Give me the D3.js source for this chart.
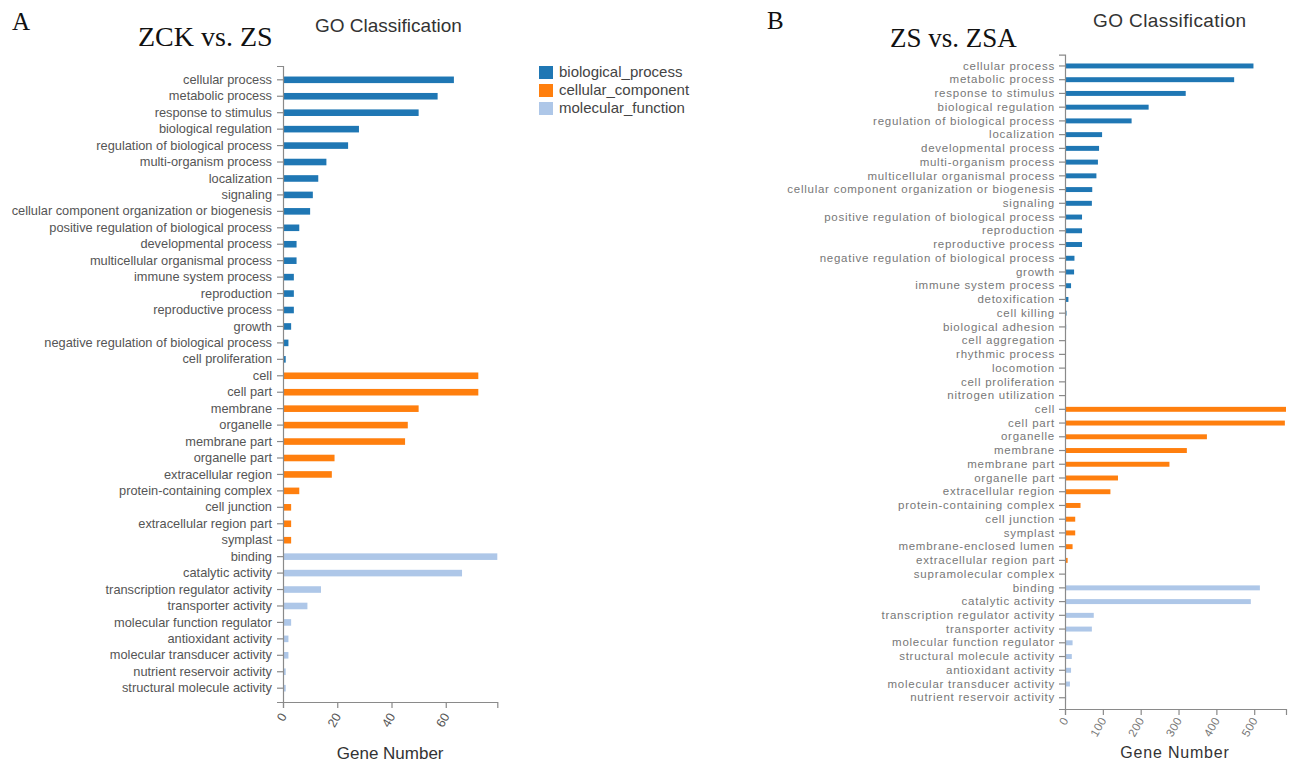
<!DOCTYPE html>
<html>
<head>
<meta charset="utf-8">
<script src="https://cdn.jsdelivr.net/npm/d3@7"></script>
<style>
  html, body { margin: 0; padding: 0; background: #fff; }
  svg { display: block; }
  .axis path, .axis line { stroke: #8a8a8a; stroke-width: 1.2; }
</style>
</head>
<body>
<svg id="chart" width="1295" height="762"></svg>
<script>
// ---- Panel A: ZCK vs. ZS ----
const aProcessTerms = ["cellular process", "metabolic process", "response to stimulus", "biological regulation",
  "regulation of biological process", "multi-organism process", "localization", "signaling",
  "cellular component organization or biogenesis", "positive regulation of biological process",
  "developmental process", "multicellular organismal process", "immune system process", "reproduction",
  "reproductive process", "growth", "negative regulation of biological process", "cell proliferation"];
const aProcessCounts = [63, 57, 50, 28, 24, 16, 13, 11, 10, 6, 5, 5, 4, 4, 4, 3, 2, 1];

const aComponentTerms = ["cell", "cell part", "membrane", "organelle", "membrane part", "organelle part",
  "extracellular region", "protein-containing complex", "cell junction", "extracellular region part", "symplast"];
const aComponentCounts = [72, 72, 50, 46, 45, 19, 18, 6, 3, 3, 3];

const aFunctionTerms = ["binding", "catalytic activity", "transcription regulator activity", "transporter activity",
  "molecular function regulator", "antioxidant activity", "molecular transducer activity",
  "nutrient reservoir activity", "structural molecule activity"];
const aFunctionCounts = [79, 66, 14, 9, 3, 2, 2, 1, 1];

// ---- Panel B: ZS vs. ZSA ----
const bProcessTerms = ["cellular process", "metabolic process", "response to stimulus", "biological regulation",
  "regulation of biological process", "localization", "developmental process", "multi-organism process",
  "multicellular organismal process", "cellular component organization or biogenesis", "signaling",
  "positive regulation of biological process", "reproduction", "reproductive process",
  "negative regulation of biological process", "growth", "immune system process", "detoxification",
  "cell killing", "biological adhesion", "cell aggregation", "rhythmic process", "locomotion",
  "cell proliferation", "nitrogen utilization"];
const bProcessCounts = [498, 447, 319, 221, 176, 98, 90, 87, 83, 72, 71, 45, 45, 45, 25, 24, 16, 9, 4, 3, 2, 1, 1, 1, 1];

const bComponentTerms = ["cell", "cell part", "organelle", "membrane", "membrane part", "organelle part",
  "extracellular region", "protein-containing complex", "cell junction", "symplast", "membrane-enclosed lumen",
  "extracellular region part", "supramolecular complex"];
const bComponentCounts = [584, 581, 375, 322, 276, 140, 120, 41, 27, 27, 20, 7, 1];

const bFunctionTerms = ["binding", "catalytic activity", "transcription regulator activity", "transporter activity",
  "molecular function regulator", "structural molecule activity", "antioxidant activity",
  "molecular transducer activity", "nutrient reservoir activity"];
const bFunctionCounts = [515, 491, 76, 71, 20, 18, 16, 13, 3];

const ontologies = ["biological_process", "cellular_component", "molecular_function"];
const ontologyColors = ["#1f77b4", "#ff7f0e", "#aec7e8"];

const SANS = "'Liberation Sans', Arial, Helvetica, sans-serif";
const SERIF = "'Liberation Serif', 'Times New Roman', serif";

const svg = d3.select("#chart");
svg.append("rect").attr("width", 1295).attr("height", 762).attr("fill", "#fff");

const color = d3.scaleOrdinal().domain(ontologies).range(ontologyColors);

function buildRows(groups) {
  const rows = [];
  groups.forEach(([terms, counts, onto]) => {
    terms.forEach((t, i) => rows.push({ term: t, count: counts[i], onto }));
  });
  return rows;
}

function drawPanel(opt) {
  const rows = buildRows(opt.groups);
  const g = svg.append("g");

  const x = d3.scaleLinear()
    .domain([0, d3.max(rows, d => d.count)])
    .range([opt.x0, opt.x1]);
  const y = d3.scaleBand()
    .domain(rows.map(d => d.term))
    .range([opt.y0, opt.y1])
    .paddingInner(opt.padInner)
    .paddingOuter(0.64);

  // bars
  g.append("g").selectAll("rect")
    .data(rows)
    .join("rect")
    .attr("x", x(0))
    .attr("y", d => y(d.term))
    .attr("width", d => x(d.count) - x(0))
    .attr("height", y.bandwidth())
    .attr("fill", d => color(d.onto));

  // category axis
  const yAxis = g.append("g")
    .attr("class", "axis")
    .attr("transform", `translate(${opt.x0},0)`)
    .call(d3.axisLeft(y).tickSize(6).tickPadding(opt.labelPad));
  yAxis.selectAll("text")
    .attr("fill", opt.labelColor)
    .style("font-family", SANS)
    .style("font-size", opt.labelSize + "px")
    .style("letter-spacing", opt.labelSpacing + "px");

  // value axis
  const xAxis = g.append("g")
    .attr("class", "axis")
    .attr("transform", `translate(0,${opt.y1})`)
    .call(d3.axisBottom(x).ticks(opt.ticks).tickSize(6));
  xAxis.selectAll("text")
    .attr("fill", opt.labelColor)
    .style("font-family", SANS)
    .style("font-size", opt.tickSize + "px")
    .style("letter-spacing", opt.tickSpacing + "px")
    .style("text-anchor", "end")
    .attr("y", 0).attr("dy", "0.35em").attr("dx", 0)
    .attr("transform", `translate(0,${opt.tickDrop}) rotate(-60)`);

  // axis title
  g.append("text")
    .attr("x", (opt.x0 + opt.x1) / 2 + opt.titleShift)
    .attr("y", opt.axisTitleY)
    .attr("text-anchor", "middle")
    .attr("fill", "#333")
    .style("font-family", SANS)
    .style("font-size", opt.axisTitleSize + "px")
    .style("letter-spacing", opt.axisTitleSpacing + "px")
    .text("Gene Number");

  // headings
  g.append("text").attr("x", opt.letterX).attr("y", opt.letterY)
    .attr("fill", "#111").style("font-family", SERIF).style("font-size", "25px")
    .text(opt.letter);
  g.append("text").attr("x", opt.compX).attr("y", opt.compY)
    .attr("fill", "#111").style("font-family", SERIF).style("font-size", opt.compSize + "px")
    .text(opt.comparison);
  g.append("text").attr("x", opt.goX).attr("y", opt.goY)
    .attr("fill", "#333").style("font-family", SANS).style("font-size", "19px")
    .style("letter-spacing", opt.goSpacing + "px")
    .text("GO Classification");
}

drawPanel({
  groups: [[aProcessTerms, aProcessCounts, ontologies[0]],
           [aComponentTerms, aComponentCounts, ontologies[1]],
           [aFunctionTerms, aFunctionCounts, ontologies[2]]],
  x0: 283, x1: 497.3, y0: 66, y1: 702, padInner: 0.6,
  labelPad: 5, labelColor: "#555", labelSize: 12.8, labelSpacing: 0,
  tickSize: 12.5, tickSpacing: 0, ticks: 4, tickDrop: 12,
  axisTitleY: 759, axisTitleSize: 17, axisTitleSpacing: 0, titleShift: 0,
  letter: "A", letterX: 12, letterY: 30,
  comparison: "ZCK vs. ZS", compX: 138, compY: 46, compSize: 28,
  goX: 315, goY: 32, goSpacing: 0
});

drawPanel({
  groups: [[bProcessTerms, bProcessCounts, ontologies[0]],
           [bComponentTerms, bComponentCounts, ontologies[1]],
           [bFunctionTerms, bFunctionCounts, ontologies[2]]],
  x0: 1065, x1: 1286, y0: 54.7, y1: 709, padInner: 0.64,
  labelPad: 4, labelColor: "#777", labelSize: 11.5, labelSpacing: 0.75,
  tickSize: 11.5, tickSpacing: 0.4, ticks: 6, tickDrop: 9,
  axisTitleY: 758, axisTitleSize: 16, axisTitleSpacing: 0.8, titleShift: -0.5,
  letter: "B", letterX: 767, letterY: 29,
  comparison: "ZS vs. ZSA", compX: 890, compY: 47, compSize: 27,
  goX: 1093, goY: 27, goSpacing: 0.4
});

// legend for panel A
const legend = svg.append("g").attr("transform", "translate(539,66)");
const item = legend.selectAll("g")
  .data(ontologies)
  .join("g")
  .attr("transform", (d, i) => `translate(0,${i * 18})`);
item.append("rect").attr("width", 14).attr("height", 13).attr("fill", d => color(d));
item.append("text")
  .attr("x", 20).attr("y", 11)
  .attr("fill", "#444")
  .style("font-family", SANS)
  .style("font-size", "15px")
  .text(d => d);
</script>
</body>
</html>
